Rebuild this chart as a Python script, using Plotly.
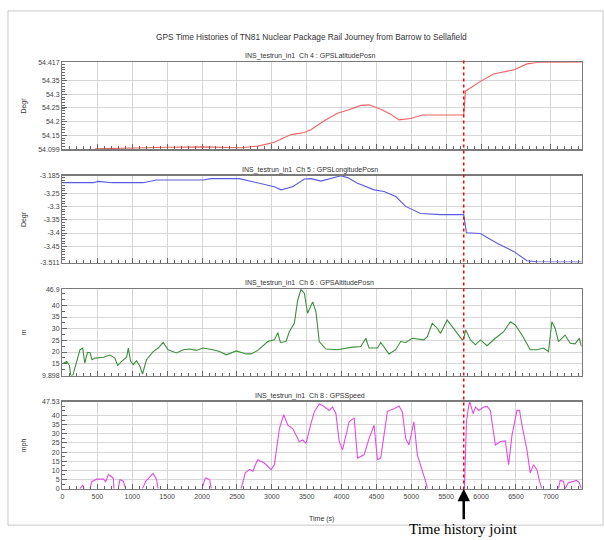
import plotly.graph_objects as go

# ---------------- data ----------------
lat_t = [466, 1000, 1500, 2000, 2400, 2561, 2800, 3037, 3276, 3467, 3561, 3752, 3943, 4086,
         4276, 4394, 4561, 4704, 4823, 4990, 5157, 5419, 5751, 5776, 5990, 6180, 6466, 6657, 6800, 7443]
lat_v = [54.100, 54.104, 54.106, 54.107, 54.106, 54.104, 54.110, 54.124, 54.152, 54.160,
         54.170, 54.203, 54.230, 54.241, 54.259, 54.261, 54.245, 54.227, 54.206, 54.211, 54.224,
         54.224, 54.224, 54.311, 54.347, 54.374, 54.389, 54.411, 54.416, 54.417]

lon_t = [0, 443, 514, 704, 1157, 1347, 2014, 2133, 2537, 2800, 3037, 3133, 3300, 3467, 3561, 3704,
         3894, 3990, 4086, 4229, 4466, 4609, 4776, 4919, 5133, 5419, 5751, 5790, 5990, 6086, 6229,
         6466, 6657, 6800, 7443]
lon_v = [-3.211, -3.211, -3.206, -3.211, -3.211, -3.201, -3.201, -3.196, -3.196, -3.213, -3.226,
         -3.238, -3.226, -3.197, -3.196, -3.205, -3.192, -3.185, -3.192, -3.213, -3.238, -3.244,
         -3.263, -3.300, -3.327, -3.331, -3.331, -3.399, -3.402, -3.417, -3.438, -3.469, -3.504,
         -3.508, -3.509]

alt_t = [0, 14, 61, 100, 119, 147, 204, 251, 290, 319, 357, 394, 423, 466, 586, 680, 751, 790, 847,
         919, 943, 976, 1014, 1061, 1109, 1147, 1204, 1300, 1371, 1443, 1514, 1633, 1729, 1823, 1919,
         2014, 2157, 2251, 2347, 2490, 2633, 2704, 2800, 2943, 3037, 3086, 3123, 3204, 3251, 3323,
         3371, 3419, 3467, 3514, 3586, 3633, 3680, 3776, 3943, 4133, 4276, 4347, 4394, 4514, 4561,
         4680, 4776, 4847, 4919, 5014, 5180, 5229, 5300, 5371, 5419, 5514, 5586, 5657, 5729, 5751,
         5780, 5847, 5919, 5990, 6086, 6204, 6323, 6419, 6490, 6586, 6704, 6800, 6894, 6966, 7014,
         7061, 7109, 7204, 7276, 7347, 7409, 7437]
alt_v = [15.0, 15.3, 16.0, 14.2, 9.9, 9.9, 16.7, 21.0, 21.7, 15.3, 19.8, 19.8, 16.7, 17.4, 17.8,
         18.7, 17.4, 14.2, 16.0, 17.8, 21.7, 16.0, 14.6, 16.3, 13.9, 10.6, 16.7, 20.2, 21.7, 24.1,
         21.0, 19.6, 21.0, 21.3, 20.7, 21.7, 21.0, 20.2, 18.8, 20.5, 19.2, 19.2, 20.7, 24.5, 25.2,
         28.3, 24.1, 24.5, 28.7, 32.3, 42.2, 46.9, 45.1, 36.6, 41.5, 37.2, 24.5, 21.3, 21.0, 22.0,
         22.4, 25.9, 21.7, 21.7, 24.1, 19.2, 21.0, 24.5, 24.1, 25.9, 25.2, 26.6, 32.3, 30.2, 28.0,
         33.7, 30.9, 28.0, 25.2, 25.9, 29.5, 25.2, 23.1, 25.2, 22.7, 25.9, 28.7, 33.0, 31.6, 27.3,
         21.0, 21.0, 21.7, 20.2, 33.0, 30.2, 24.5, 27.3, 23.8, 23.5, 25.9, 22.4]

spd_t = [0, 250, 261, 290, 310, 394, 419, 490, 586, 619, 657, 704, 730, 737, 800, 823, 871, 904,
         1147, 1195, 1300, 1347, 1371, 2000, 2047, 2109, 2133, 2561, 2590, 2620, 2680, 2729, 2776,
         2800, 2894, 2990, 3037, 3109, 3171, 3229, 3300, 3394, 3443, 3490, 3561, 3609, 3680, 3729,
         3823, 3871, 3919, 3966, 4014, 4109, 4180, 4229, 4323, 4394, 4466, 4514, 4561, 4609, 4657,
         4751, 4823, 4871, 4919, 4966, 5037, 5086, 5157, 5204, 5230, 5761, 5790, 5823, 5837, 5886,
         5919, 5966, 6037, 6086, 6133, 6204, 6276, 6347, 6394, 6443, 6514, 6551, 6586, 6657, 6704,
         6751, 6800, 6837, 6871, 7109, 7133, 7180, 7204, 7251, 7300, 7371, 7409, 7437]
spd_v = [0, 0, 0.5, 1.8, 0, 0, 3.8, 5.2, 5.2, 3.8, 7.7, 6.5, 5.5, 0, 0, 5.0, 4.1, 0,
         0, 4.1, 8.3, 5.0, 0, 0, 5.9, 5.0, 0, 0, 5.0, 8.6, 10.5, 9.5, 14.0,
         15.8, 14.0, 10.4, 13.1, 32.9, 40.5, 34.7, 32.9, 25.8, 26.6, 24.8, 35.6, 42.0, 46.4, 45.5,
         42.8, 44.7, 41.0, 25.8, 21.2, 36.6, 38.7, 16.7, 18.5, 27.5, 34.7, 15.8, 16.7, 30.2, 42.3,
         43.7, 45.2, 42.0, 27.5, 23.9, 36.6, 18.5, 10.4, 4.1, 0, 0, 36.6, 45.5, 47.4, 41.0,
         44.7, 42.8, 44.7, 45.0, 42.8, 23.9, 25.8, 26.1, 13.1, 29.3, 42.8, 42.8, 34.7, 21.2, 8.6,
         13.1, 10.4, 4.1, 0, 0, 4.5, 4.1, 0, 3.2, 3.8, 4.5, 3.2, 0]

titles = ["INS_testrun_in1  Ch 4 : GPSLatitudePosn", "INS_testrun_in1  Ch 5 : GPSLongitudePosn",
          "INS_testrun_in1  Ch 6 : GPSAltitudePosn", "INS_testrun_in1  Ch 8 : GPSSpeed"]
units = ["Degr", "Degr", "m", "mph"]
y_ranges = [(54.099, 54.417), (-3.511, -3.185), (9.898, 46.9), (0, 47.53)]
y_ticks = [[54.099, 54.15, 54.2, 54.25, 54.3, 54.35, 54.417],
           [-3.511, -3.45, -3.4, -3.35, -3.3, -3.25, -3.185],
           [9.898, 15, 20, 25, 30, 35, 40, 46.9],
           [0, 5, 10, 15, 20, 25, 30, 35, 40, 47.53]]
y_ticktext = [["54.099", "54.15", "54.2", "54.25", "54.3", "54.35", "54.417"],
              ["-3.511", "-3.45", "-3.4", "-3.35", "-3.3", "-3.25", "-3.185"],
              ["9.898", "15", "20", "25", "30", "35", "40", "46.9"],
              ["0", "5", "10", "15", "20", "25", "30", "35", "40", "47.53"]]
minor_dt = [0.01, 0.01, 2.5, 2.5]
joint_t = 5751
x_max = 7443


def split_zero_runs(t, v):
    """Stationary stretches (two consecutive zero readings) sit on the axis; break the line there."""
    ot, ov = [], []
    for k in range(len(t)):
        if k > 0 and v[k] == 0 and v[k - 1] == 0:
            ot.append(None)
            ov.append(None)
        ot.append(t[k])
        ov.append(v[k])
    return ot, ov


spd_pt, spd_pv = split_zero_runs(spd_t, spd_v)

series = [(lat_t, lat_v, "#f06262"), (lon_t, lon_v, "#5a5ae0"),
          (alt_t, alt_v, "#3c8f3c"), (spd_pt, spd_pv, "#e54be5")]

# ---------------- layout geometry (pixels) ----------------
W, H = 604, 540
X0, X1 = 60.7, 581.7
panels = [(59, 147), (174, 262), (289, 376.5), (403, 491)]
def fx(p): return p / W
def fy(p): return 1 - p / H

fig = go.Figure()
layout = dict(width=W, height=H, margin=dict(l=0, r=0, t=0, b=0),
              paper_bgcolor="white", plot_bgcolor="white", showlegend=False)
annotations = []
font = "Arial, Liberation Sans, sans-serif"

for i in range(4):
    n = i + 1
    t, v, col = series[i]
    fig.add_trace(go.Scatter(x=t, y=v, mode="lines", line=dict(color=col, width=1.1),
                             connectgaps=False, xaxis=f"x{n}", yaxis=f"y{n}", hoverinfo="skip"))
    top, bot = panels[i]
    layout[f"xaxis{n}"] = dict(
        domain=[fx(X0), fx(X1)], anchor=f"y{n}", range=[0, x_max],
        tick0=0, dtick=500, showgrid=True, gridcolor="#d6d6d6", gridwidth=1,
        ticks="inside", ticklen=5, tickcolor="#666", tickwidth=1,
        minor=dict(dtick=100, tick0=0, ticks="inside", ticklen=3, tickcolor="#666", showgrid=False),
        showline=True, mirror=True, linecolor="#7a7a7a", linewidth=1.5, zeroline=False,
        showticklabels=(n == 4), tickfont=dict(family=font, size=7, color="#444"))
    layout[f"yaxis{n}"] = dict(
        domain=[fy(bot), fy(top)], anchor=f"x{n}", range=list(y_ranges[i]),
        tickmode="array", tickvals=y_ticks[i], ticktext=y_ticktext[i],
        showgrid=True, gridcolor="#d6d6d6", gridwidth=1,
        ticks="inside", ticklen=5, tickcolor="#666",
        minor=dict(tickmode="linear", tick0=y_ranges[i][0] if i < 2 else 0, dtick=minor_dt[i],
                   ticks="inside", ticklen=3, tickcolor="#666", showgrid=False),
        showline=True, mirror=True, linecolor="#7a7a7a", linewidth=1.5, zeroline=False,
        tickfont=dict(family=font, size=7, color="#444"))
    annotations.append(dict(text=titles[i], x=fx(309), y=fy(top - 6), xref="paper", yref="paper",
                            xanchor="center", yanchor="middle", showarrow=False,
                            font=dict(family=font, size=7, color="#333")))
    annotations.append(dict(text=units[i], x=fx(22), y=fy((top + bot) / 2), xref="paper", yref="paper",
                            xanchor="center", yanchor="middle", textangle=-90, showarrow=False,
                            font=dict(family=font, size=7, color="#333")))

annotations.append(dict(text="GPS Time Histories of TN81 Nuclear Package Rail Journey from Barrow to Sellafield",
                        x=fx(311), y=fy(33), xref="paper", yref="paper", xanchor="center", yanchor="middle",
                        showarrow=False, font=dict(family=font, size=8.3, color="#333")))
annotations.append(dict(text="Time (s)", x=fx(321), y=fy(522), xref="paper", yref="paper",
                        xanchor="center", yanchor="middle", showarrow=False,
                        font=dict(family=font, size=7, color="#333")))
annotations.append(dict(text="Time history joint", x=joint_t, y=0, xref="x4", yref="y4",
                        showarrow=True, arrowhead=2, arrowsize=1, arrowwidth=2.5, arrowcolor="black",
                        ax=0, ay=40, standoff=0,
                        font=dict(family="Liberation Serif, Times New Roman, serif", size=15, color="black")))

layout["annotations"] = annotations
layout["shapes"] = [
    dict(type="rect", xref="paper", yref="paper", x0=fx(6), x1=fx(603), y0=fy(528), y1=fy(7),
         line=dict(color="#c8c8c8", width=1), layer="below"),
    dict(type="line", xref="x4", yref="paper", x0=joint_t, x1=joint_t, y0=fy(492), y1=fy(55),
         line=dict(color="red", width=1.5, dash="dot")),
]
fig.update_layout(**layout)
fig.write_html("out.html", config={"displayModeBar": False, "staticPlot": True},
               post_script="document.body.style.margin='0';document.body.style.overflow='hidden';")
